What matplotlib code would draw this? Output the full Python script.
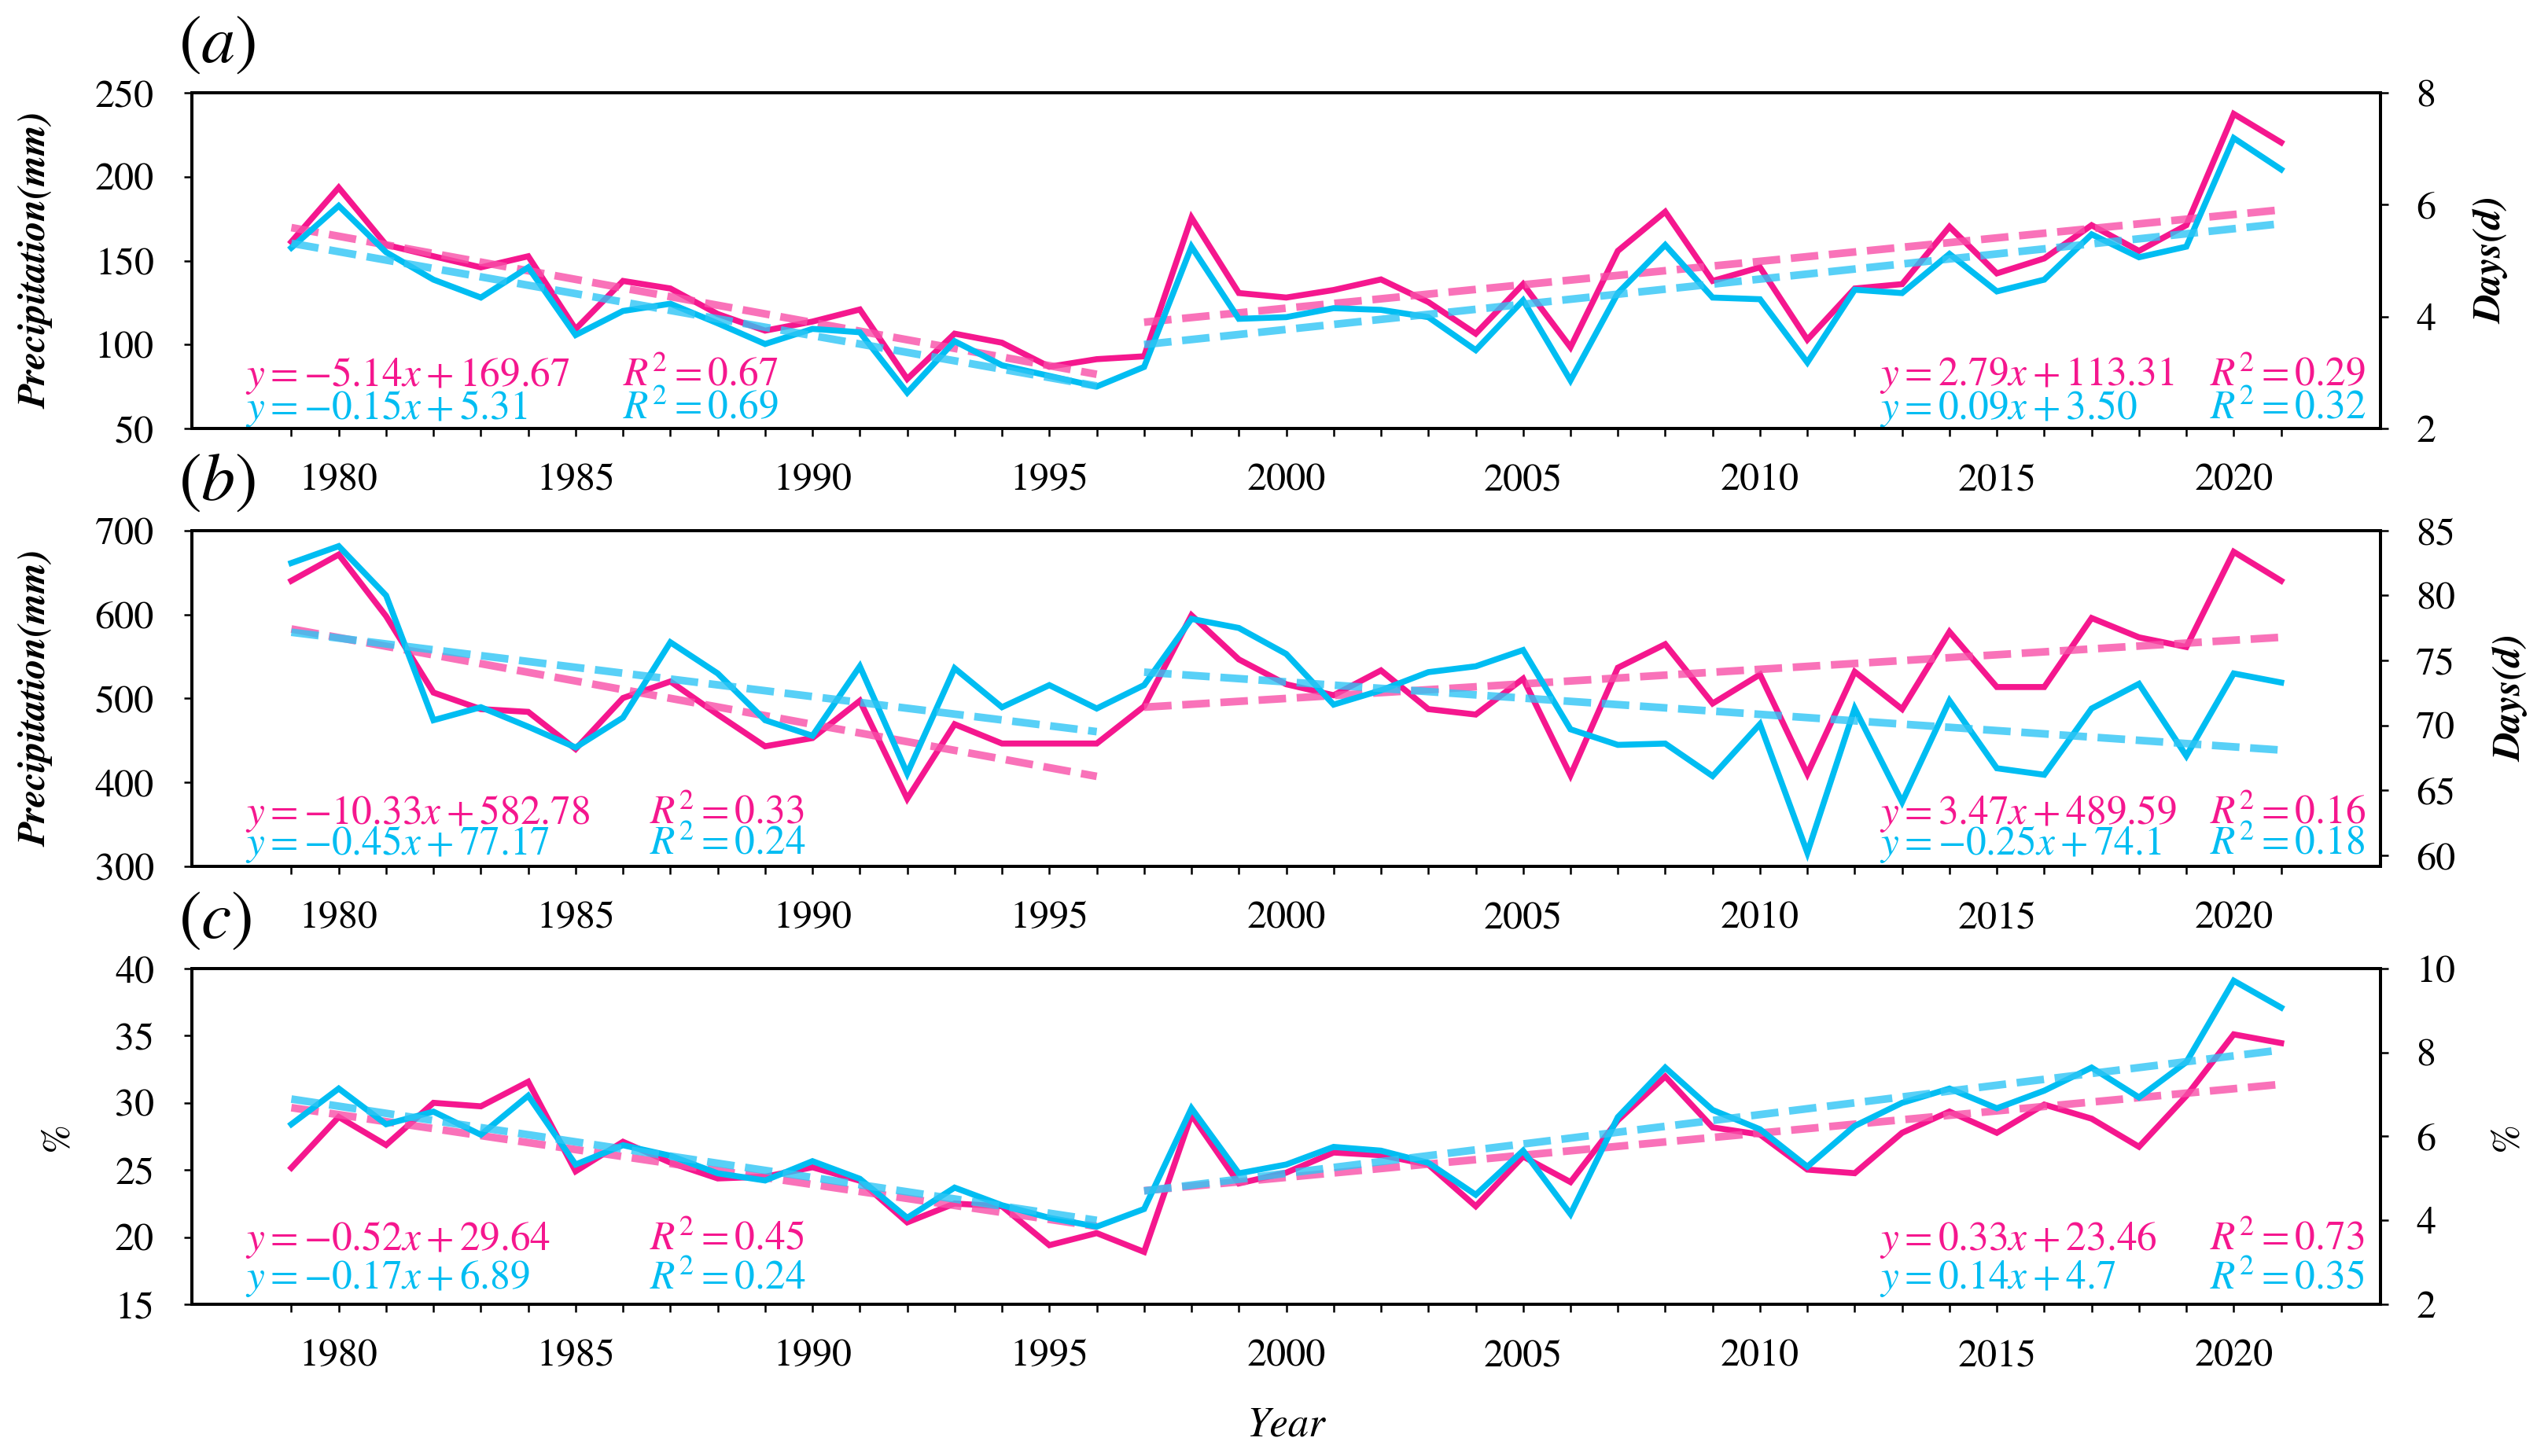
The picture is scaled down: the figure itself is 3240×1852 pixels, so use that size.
import numpy as np
import matplotlib
matplotlib.use('Agg')
import matplotlib.pyplot as plt

plt.rcParams['font.family'] = 'STIXGeneral'
plt.rcParams['mathtext.fontset'] = 'stix'
plt.rcParams['font.size'] = 36

years = np.arange(1979, 2022)

# (a) precipitation (left axis) and days (right axis)
prec_a = [161.2, 193.5, 159.4, 152.6, 146.0, 152.6, 109.2, 137.9, 133.4, 118.2,
          108.3, 113.7, 120.9, 79.5, 106.5, 101.1, 86.8, 91.3, 93.0, 175.6,
          130.7, 128.0, 132.5, 138.8, 125.3, 106.5, 136.0, 98.4, 155.8, 179.1,
          137.9, 146.0, 102.9, 133.4, 136.0, 170.2, 142.4, 151.3, 171.1, 155.8,
          171.1, 237.4, 220.4]
days_a = [5.23, 5.98, 5.15, 4.66, 4.34, 4.88, 3.67, 4.10, 4.23, 3.88,
          3.51, 3.78, 3.72, 2.64, 3.56, 3.13, 2.94, 2.75, 3.10, 5.25,
          3.96, 3.99, 4.15, 4.12, 3.99, 3.40, 4.29, 2.86, 4.42, 5.28,
          4.34, 4.31, 3.18, 4.48, 4.42, 5.12, 4.45, 4.66, 5.47, 5.06,
          5.25, 7.19, 6.63]

# (b)
prec_b = [640.2, 671.4, 598.0, 507.0, 487.3, 484.0, 439.7, 500.5, 520.2, 480.8,
          443.0, 452.8, 497.2, 380.5, 469.3, 446.3, 446.3, 446.3, 490.6, 599.1,
          546.5, 516.9, 503.8, 533.4, 487.3, 480.8, 523.5, 408.5, 536.6, 564.6,
          494.0, 528.5, 410.1, 531.8, 487.3, 579.4, 513.6, 513.6, 595.8, 572.8,
          561.3, 674.7, 640.2]
days_b = [82.5, 83.8, 80.0, 70.4, 71.4, 69.9, 68.3, 70.6, 76.4, 74.0,
          70.4, 69.2, 74.55, 66.3, 74.4, 71.4, 73.1, 71.3, 73.1, 78.2,
          77.5, 75.5, 71.6, 72.7, 74.1, 74.55, 75.8, 69.7, 68.5, 68.6,
          66.1, 70.1, 60.2, 71.3, 64.1, 71.9, 66.7, 66.2, 71.3, 73.2,
          67.65, 74.0, 73.3]

# (c)
pct_c_left = [25.16, 28.95, 26.86, 30.0, 29.74, 31.57, 24.9, 27.1, 25.55, 24.37,
              24.5, 25.2, 24.2, 21.1, 22.5, 22.3, 19.4, 20.3, 18.9, 29.1,
              24.0, 24.8, 26.3, 26.1, 25.4, 22.3, 26.0, 24.1, 28.7, 31.96,
              28.17, 27.64, 25.03, 24.76, 27.77, 29.35, 27.77, 29.87, 28.82, 26.73,
              30.52, 35.1, 34.45]
pct_c_right = [6.29, 7.14, 6.29, 6.59, 6.04, 6.97, 5.33, 5.79, 5.54, 5.12,
               4.95, 5.41, 4.99, 4.06, 4.78, 4.36, 4.06, 3.85, 4.27, 6.67,
               5.12, 5.33, 5.75, 5.66, 5.37, 4.61, 5.66, 4.15, 6.46, 7.64,
               6.63, 6.17, 5.28, 6.25, 6.80, 7.14, 6.67, 7.09, 7.64, 6.93,
               7.77, 9.71, 9.07]

# trend coefficients (slope, intercept) for 1979-1996 and 1997-2021
trend_left = [[(-5.14, 169.67), (2.79, 113.31)],
              [(-10.33, 582.78), (3.47, 489.59)],
              [(-0.52, 29.64), (0.33, 23.46)]]
trend_right = [[(-0.15, 5.31), (0.09, 3.50)],
               [(-0.45, 77.17), (-0.25, 74.1)],
               [(-0.17, 6.89), (0.14, 4.7)]]

eq_left = [[r'$y=-5.14x+169.67$', r'$y=2.79x+113.31$'],
           [r'$y=-10.33x+582.78$', r'$y=3.47x+489.59$'],
           [r'$y=-0.52x+29.64$', r'$y=0.33x+23.46$']]
r2_left = [[r'$R^2=0.67$', r'$R^2=0.29$'],
           [r'$R^2=0.33$', r'$R^2=0.16$'],
           [r'$R^2=0.45$', r'$R^2=0.73$']]
eq_right = [[r'$y=-0.15x+5.31$', r'$y=0.09x+3.50$'],
            [r'$y=-0.45x+77.17$', r'$y=-0.25x+74.1$'],
            [r'$y=-0.17x+6.89$', r'$y=0.14x+4.7$']]
r2_right = [[r'$R^2=0.69$', r'$R^2=0.32$'],
            [r'$R^2=0.24$', r'$R^2=0.18$'],
            [r'$R^2=0.24$', r'$R^2=0.35$']]

panel_names = ['a', 'b', 'c']
left_series = [prec_a, prec_b, pct_c_left]
right_series = [days_a, days_b, pct_c_right]
left_lims = [(50, 250), (300, 700), (15, 40)]
right_lims = [(2, 8), (59.15, 85), (2, 10)]
left_ticks = [[50, 100, 150, 200, 250], [300, 400, 500, 600, 700], [15, 20, 25, 30, 35, 40]]
right_ticks = [[2, 4, 6, 8], [60, 65, 70, 75, 80, 85], [2, 4, 6, 8, 10]]
left_labels = ['Precipitation(mm)', 'Precipitation(mm)', '%']
right_labels = ['Days(d)', 'Days(d)', '%']
label_style = ['bolditalic', 'bolditalic', 'plain']
text_y = [(0.157, 0.059), (0.157, 0.066), (0.192, 0.075)]
r2_x = [0.197, 0.209, 0.209]
left_lab_x = [-0.071, -0.071, -0.061]
right_lab_x = [1.051, 1.060, 1.058]

PINK = '#F5178E'
CYAN = '#00BDF2'
PINK_T = '#F84FA8'
CYAN_T = '#2EC5F5'

seg1 = np.arange(1979, 1997)
seg2 = np.arange(1997, 2022)

fig = plt.figure(figsize=(32.4, 18.52), dpi=100)
bottoms = [0.7057, 0.4050, 0.1042]

for i in range(3):
    ax = fig.add_axes([0.0753, bottoms[i], 0.859, 0.2306])
    ax2 = ax.twinx()

    ax.plot(years, left_series[i], color=PINK, lw=5.5, solid_joinstyle='miter')
    for (k, b), seg in zip(trend_left[i], [seg1, seg2]):
        xx = np.arange(len(seg))
        ax.plot(seg, k * xx + b, color=PINK_T, lw=7, alpha=0.8, dashes=(3.6, 1.4))

    ax2.plot(years, right_series[i], color=CYAN, lw=5.5, solid_joinstyle='miter')
    for (k, b), seg in zip(trend_right[i], [seg1, seg2]):
        xx = np.arange(len(seg))
        ax2.plot(seg, k * xx + b, color=CYAN_T, lw=7, alpha=0.8, dashes=(3.6, 1.4))

    ax.set_xlim(1976.9, 2023.1)
    ax.set_ylim(*left_lims[i])
    ax2.set_ylim(*right_lims[i])
    ax.set_yticks(left_ticks[i])
    ax2.set_yticks(right_ticks[i])
    ax.set_xticks(years)
    ax.set_xticklabels([str(y) if y % 5 == 0 else '' for y in years])

    ax.tick_params(axis='x', direction='out', length=7.5, width=1.8, pad=24, labelsize=36)
    ax.tick_params(axis='y', direction='out', length=7.5, width=1.8, pad=27, labelsize=36)
    ax2.tick_params(axis='y', direction='out', length=7.5, width=1.8, pad=25, labelsize=36)
    for a in (ax, ax2):
        for s in a.spines.values():
            s.set_linewidth(2.8)

    if label_style[i] == 'bolditalic':
        kw = dict(fontstyle='italic', fontweight='bold')
    else:
        kw = {}
    ax.set_ylabel(left_labels[i], fontsize=36, va='center', **kw)
    ax.yaxis.set_label_coords(left_lab_x[i], 0.5)
    ax2.set_ylabel(right_labels[i], fontsize=36, va='center', **kw)
    ax2.yaxis.set_label_coords(right_lab_x[i], 0.5)

    y1, y2 = text_y[i]
    ax.text(0.0244, y1, eq_left[i][0], color=PINK, fontsize=37, transform=ax.transAxes, va='center')
    ax.text(r2_x[i], y1, r2_left[i][0], color=PINK, fontsize=37, transform=ax.transAxes, va='center')
    ax.text(0.0244, y2, eq_right[i][0], color=CYAN, fontsize=37, transform=ax.transAxes, va='center')
    ax.text(r2_x[i], y2, r2_right[i][0], color=CYAN, fontsize=37, transform=ax.transAxes, va='center')
    ax.text(0.771, y1, eq_left[i][1], color=PINK, fontsize=37, transform=ax.transAxes, va='center')
    ax.text(0.922, y1, r2_left[i][1], color=PINK, fontsize=37, transform=ax.transAxes, va='center')
    ax.text(0.771, y2, eq_right[i][1], color=CYAN, fontsize=37, transform=ax.transAxes, va='center')
    ax.text(0.922, y2, r2_right[i][1], color=CYAN, fontsize=37, transform=ax.transAxes, va='center')

    ax.text(-0.006, 1.14, r'$(' + panel_names[i] + ')$', fontsize=62,
            transform=ax.transAxes, va='center', ha='left')

fig.text(0.505, 0.021, 'Year', fontsize=38, fontstyle='italic', ha='center', va='center')

fig.savefig('out.png', dpi=100)
